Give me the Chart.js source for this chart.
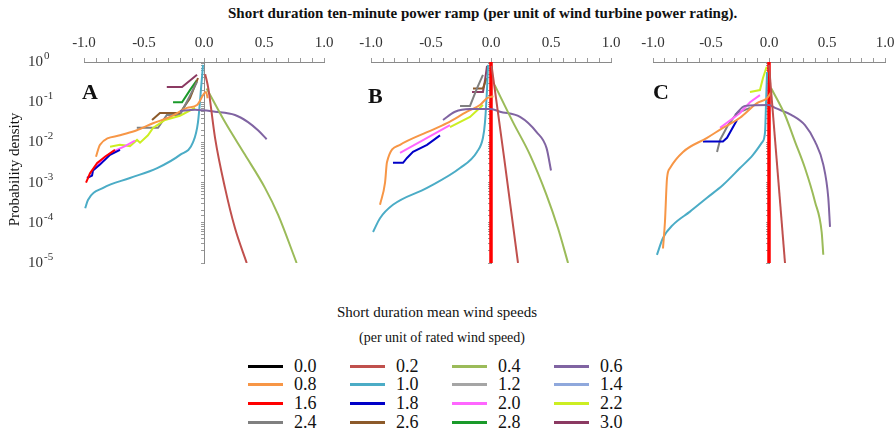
<!DOCTYPE html>
<html>
<head>
<meta charset="utf-8">
<script src="https://cdn.jsdelivr.net/npm/chart.js@4.4.1/dist/chart.umd.min.js"></script>
<style>
  body { margin: 0; background: #fff; width: 896px; height: 429px; position: relative; overflow: hidden;
         font-family: "Liberation Serif", "Times New Roman", serif; color: #111; }
  canvas { position: absolute; top: 0; }
  #title { position: absolute; left: 228px; top: 5px; font-size: 15px; font-weight: bold; white-space: nowrap; }
  .panel { position: absolute; font-size: 22px; font-weight: bold; }
  #legTitle { position: absolute; left: 0; width: 874px; top: 304px; text-align: center; font-size: 15px; }
  #legSub { position: absolute; left: 0; width: 884px; top: 330px; text-align: center; font-size: 14px; }
  #legend { position: absolute; left: 248px; top: 357px; }
  .item { position: absolute; width: 102px; height: 19px; font-size: 18px; line-height: 19px; }
  .sw { position: absolute; left: 0; top: 8px; width: 35px; height: 3px; }
  .lab { position: absolute; left: 46px; top: 0; }
</style>
</head>
<body>
<div id="title">Short duration ten-minute power ramp (per unit of wind turbine power rating).</div>
<canvas id="chA" width="340" height="275" style="left:0"></canvas>
<canvas id="chB" width="290" height="275" style="left:340px"></canvas>
<canvas id="chC" width="271" height="275" style="left:625px"></canvas>
<div class="panel" style="left:82px;top:79px">A</div>
<div class="panel" style="left:368px;top:83px">B</div>
<div class="panel" style="left:653px;top:79px">C</div>
<div id="legTitle">Short duration mean wind speeds</div>
<div id="legSub">(per unit of rated wind speed)</div>
<div id="legend"></div>

<script>
// wind speed classes (per unit of rated wind speed) and their line colours
var speeds = ['0.0', '0.2', '0.4', '0.6', '0.8', '1.0', '1.2', '1.4',
              '1.6', '1.8', '2.0', '2.2', '2.4', '2.6', '2.8', '3.0'];
var lineColors = ['#000000', '#c0504d', '#9bbb59', '#8064a2', '#f79646', '#4bacc6', '#a5a5a5', '#8fa8dc',
                  '#ff0000', '#0000c8', '#ff66ff', '#ccee22', '#808080', '#8c5a2a', '#1a9a2a', '#8b3a62'];

var panelLabels = ['A', 'B', 'C'];
var yTickExponents = [0, -1, -2, -3, -4, -5];   // y labels: 10^0 ... 10^-5

// [ramp (p.u.), probability density]  -- panel A
var A_0_2 = [[0.01, 0.5], [0.036, 0.22], [0.092, 0.013], [0.175, 7.4e-4], [0.258, 7.4e-5], [0.356, 1e-5]];
var A_0_4 = [[0.022, 0.22], [0.175, 0.032], [0.342, 0.0049], [0.508, 7.4e-4], [0.617, 1.6e-4], [0.772, 1e-5]];
var A_0_6 = [[-0.2, 0.06], [-0.075, 0.065], [0.092, 0.058], [0.258, 0.048], [0.367, 0.032], [0.45, 0.02], [0.522, 0.012]];
var A_0_8 = [[-0.9, 0.0044], [-0.867, 0.0087], [-0.7, 0.015], [-0.56, 0.02], [-0.425, 0.03], [-0.283, 0.043],
             [-0.142, 0.072], [-0.058, 0.085], [0.017, 0.18], [0.03, 0.126]];
var A_1_0 = [[-0.99, 2.3e-4], [-0.967, 3.7e-4], [-0.84, 7.4e-4], [-0.617, 0.0013], [-0.39, 0.0023], [-0.2, 0.0049],
             [-0.092, 0.01], [-0.05, 0.032], [-0.02, 0.32], [-0.008, 0.85]];
var A_1_6 = [[-0.983, 0.001], [-0.95, 0.0017], [-0.89, 0.0031], [-0.825, 0.0044], [-0.742, 0.0065]];
var A_1_8 = [[-0.975, 0.0013], [-0.933, 0.0015], [-0.925, 0.002], [-0.867, 0.0028], [-0.783, 0.0049], [-0.7, 0.0065]];
var A_2_0 = [[-0.908, 0.0023], [-0.825, 0.0044], [-0.742, 0.0062], [-0.658, 0.0081], [-0.575, 0.011]];
var A_2_2 = [[-0.783, 0.0078], [-0.7, 0.0087], [-0.617, 0.0081], [-0.558, 0.0115], [-0.533, 0.0098], [-0.467, 0.015],
             [-0.425, 0.023], [-0.325, 0.036], [-0.2, 0.046], [-0.075, 0.072]];
var A_2_4 = [[-0.56, 0.023], [-0.383, 0.023], [-0.31, 0.048], [-0.2, 0.048], [-0.058, 0.32]];
var A_2_6 = [[-0.433, 0.036], [-0.367, 0.054], [-0.2, 0.054], [-0.117, 0.126], [-0.05, 0.4]];
var A_2_8 = [[-0.258, 0.1], [-0.183, 0.1], [-0.117, 0.2], [-0.06, 0.35]];
var A_3_0 = [[-0.31, 0.24], [-0.183, 0.24], [-0.058, 0.48]];

// panel B
var B_0_2 = [[0.005, 0.8], [0.11, 0.004], [0.225, 1e-5]];
var B_0_4 = [[0.03, 0.27], [0.183, 0.032], [0.325, 0.0049], [0.463, 4.9e-4], [0.558, 7.4e-5], [0.642, 1e-5]];
var B_0_6 = [[-0.4, 0.036], [-0.3, 0.058], [-0.175, 0.068], [0, 0.068], [0.075, 0.058], [0.242, 0.043],
             [0.38, 0.018], [0.463, 0.0072], [0.5, 0.002]];
var B_0_8 = [[-0.925, 2.8e-4], [-0.883, 0.001], [-0.867, 0.0032], [-0.758, 0.0087], [-0.533, 0.018], [-0.367, 0.03],
             [-0.2, 0.058], [-0.092, 0.085], [-0.033, 0.126], [0.02, 0.14]];
var B_1_0 = [[-0.983, 5.9e-5], [-0.925, 1.3e-4], [-0.817, 2.8e-4], [-0.533, 7.4e-4], [-0.258, 0.0023], [-0.117, 0.0058],
             [-0.067, 0.013], [-0.05, 0.032], [-0.033, 0.22], [-0.025, 0.85]];
var B_1_6 = [[0, 1], [0, 1e-5]];
var B_1_8 = [[-0.817, 0.0031], [-0.733, 0.0031], [-0.7, 0.0041], [-0.65, 0.0058], [-0.533, 0.0087], [-0.425, 0.015]];
var B_2_0 = [[-0.758, 0.0055], [-0.6, 0.01], [-0.342, 0.027]];
var B_2_2 = [[-0.342, 0.024], [-0.175, 0.043], [-0.067, 0.085]];
var B_2_4 = [[-0.258, 0.081], [-0.175, 0.081], [-0.117, 0.22], [-0.067, 0.48]];
var B_2_6 = [[-0.15, 0.22], [-0.067, 0.22], [-0.036, 0.4]];
var B_3_0 = [[-0.158, 0.18], [-0.067, 0.18], [-0.05, 0.35], [-0.033, 0.8]];

// panel C
var C_0_2 = [[0, 0.85], [0.138, 1e-5]];
var C_0_4 = [[0.02, 0.22], [0.138, 0.048], [0.224, 0.0105], [0.31, 0.0023], [0.397, 3.3e-4], [0.454, 5.9e-5], [0.468, 1.6e-5]];
var C_0_6 = [[-0.293, 0.048], [-0.207, 0.081], [0, 0.085], [0.052, 0.072], [0.195, 0.048], [0.31, 0.027],
             [0.397, 0.0105], [0.468, 0.0028], [0.511, 4.2e-4], [0.526, 7.9e-5]];
var C_0_8 = [[-0.914, 2.3e-5], [-0.897, 1.05e-4], [-0.879, 0.0013], [-0.853, 0.0023], [-0.741, 0.0058], [-0.534, 0.013],
             [-0.397, 0.023], [-0.25, 0.041], [-0.103, 0.095], [-0.017, 0.126], [0.03, 0.2]];
var C_1_0 = [[-0.966, 1.6e-5], [-0.914, 4.2e-5], [-0.828, 8.9e-5], [-0.681, 1.9e-4], [-0.534, 4.2e-4], [-0.397, 8.7e-4],
             [-0.25, 0.0023], [-0.138, 0.0049], [-0.06, 0.01], [-0.034, 0.018], [-0.026, 0.085], [-0.017, 0.56]];
var C_1_6 = [[0, 1], [0, 1e-5]];
var C_1_8 = [[-0.569, 0.0105], [-0.397, 0.0105], [-0.362, 0.013], [-0.276, 0.036]];
var C_2_0 = [[-0.422, 0.023], [-0.25, 0.054], [-0.164, 0.1], [-0.078, 0.15]];
var C_2_2 = [[-0.164, 0.18], [-0.078, 0.2], [-0.052, 0.4], [-0.02, 0.76]];
var C_2_4 = [[-0.448, 0.0058], [-0.422, 0.0115], [-0.353, 0.027], [-0.276, 0.054], [-0.164, 0.072]];

var panels = {
    A: { '0.2': A_0_2, '0.4': A_0_4, '0.6': A_0_6, '0.8': A_0_8, '1.0': A_1_0, '1.6': A_1_6, '1.8': A_1_8,
         '2.0': A_2_0, '2.2': A_2_2, '2.4': A_2_4, '2.6': A_2_6, '2.8': A_2_8, '3.0': A_3_0 },
    B: { '0.2': B_0_2, '0.4': B_0_4, '0.6': B_0_6, '0.8': B_0_8, '1.0': B_1_0, '1.6': B_1_6, '1.8': B_1_8,
         '2.0': B_2_0, '2.2': B_2_2, '2.4': B_2_4, '2.6': B_2_6, '3.0': B_3_0 },
    C: { '0.2': C_0_2, '0.4': C_0_4, '0.6': C_0_6, '0.8': C_0_8, '1.0': C_1_0, '1.6': C_1_6, '1.8': C_1_8,
         '2.0': C_2_0, '2.2': C_2_2, '2.4': C_2_4 }
};

var smooth = ['0.2', '0.4', '0.6', '0.8', '1.0'];
var serif = '"Liberation Serif", "Times New Roman", serif';

// y labels "10" + raised exponent and the rotated axis title, placed off the log scale
var powerLabels = {
    id: 'powerLabels',
    afterDraw: function(chart) {
        var ctx = chart.ctx;
        var ys = chart.scales.y;
        ctx.save();
        ctx.fillStyle = '#333';
        ctx.textAlign = 'left';
        ctx.textBaseline = 'alphabetic';
        yTickExponents.forEach(function(e) {
            var py = ys.getPixelForValue(Math.pow(10, e));
            ctx.font = '15px ' + serif;
            ctx.fillText('10', 28, py + 4);
            ctx.font = '11px ' + serif;
            ctx.fillText(e === 0 ? '0' : '-' + (-e), 44, py - 3);
        });
        ctx.fillStyle = '#111';
        ctx.font = '15px ' + serif;
        ctx.textAlign = 'center';
        ctx.textBaseline = 'middle';
        ctx.translate(15, (chart.chartArea.top + chart.chartArea.bottom) / 2 + 7);
        ctx.rotate(-Math.PI / 2);
        ctx.fillText('Probability density', 0, 0);
        ctx.restore();
    }
};

function makeDatasets(series, panel) {
    var out = [];
    speeds.forEach(function(s, i) {
        if (!series[s]) return;
        var vertical = (s === '1.6' && panel !== 'A');
        out.push({
            label: s,
            data: series[s].map(function(p) { return { x: p[0], y: p[1] }; }),
            borderColor: lineColors[i],
            borderWidth: vertical ? 3.5 : 2,
            pointRadius: 0,
            fill: false,
            cubicInterpolationMode: smooth.indexOf(s) >= 0 ? 'monotone' : 'default',
            tension: 0
        });
    });
    return out;
}

function buildPanel(canvasId, panel, pad, withLabels) {
    var scales = {
        x: {
            type: 'linear', position: 'top', min: -1, max: 1,
            afterFit: function(scale) {
                scale.height = 62;
                // end labels may hang over the plot edges
                scale.paddingLeft = 0;
                scale.paddingRight = 0;
            },
            border: { color: '#8a8a8a' },
            grid: { drawOnChartArea: false, tickLength: 4, color: '#9a9a9a' },
            ticks: {
                stepSize: 0.1, autoSkip: false, maxRotation: 0, padding: 6, color: '#333',
                font: { family: serif, size: 15 },
                callback: function(v) {
                    var h = v * 2;
                    return Math.abs(h - Math.round(h)) < 1e-6 ? Number(v).toFixed(1) : '';
                }
            }
        },
        y: {
            type: 'logarithmic', position: { x: 0 }, min: 1e-5, max: 1,
            border: { color: '#8a8a8a' },
            grid: { drawOnChartArea: false, tickLength: 3, color: '#9a9a9a' },
            ticks: { display: false, autoSkip: false }
        }
    };
    return new Chart(document.getElementById(canvasId).getContext('2d'), {
        type: 'line',
        data: { datasets: makeDatasets(panels[panel], panel) },
        options: {
            responsive: false, animation: false,
            layout: { padding: pad },
            plugins: { legend: { display: false }, tooltip: { enabled: false } },
            scales: scales
        },
        plugins: withLabels ? [powerLabels] : []
    });
}

var chartA = buildPanel('chA', 'A', { left: 84, right: 16, top: 0, bottom: 12 }, true);
var chartB = buildPanel('chB', 'B', { left: 31, right: 19, top: 0, bottom: 12 }, false);
var chartC = buildPanel('chC', 'C', { left: 28, right: 11, top: 0, bottom: 12 }, false);

// legend, 4 columns, row-major like the original
var legend = document.getElementById('legend');
var rowY = [0, 18, 37, 56];
speeds.forEach(function(s, i) {
    var item = document.createElement('div');
    item.className = 'item';
    item.style.left = (i % 4) * 102 + 'px';
    item.style.top = rowY[Math.floor(i / 4)] + 'px';
    item.innerHTML = '<div class="sw" style="background:' + lineColors[i] + '"></div><div class="lab">' + s + '</div>';
    legend.appendChild(item);
});
</script>
</body>
</html>
